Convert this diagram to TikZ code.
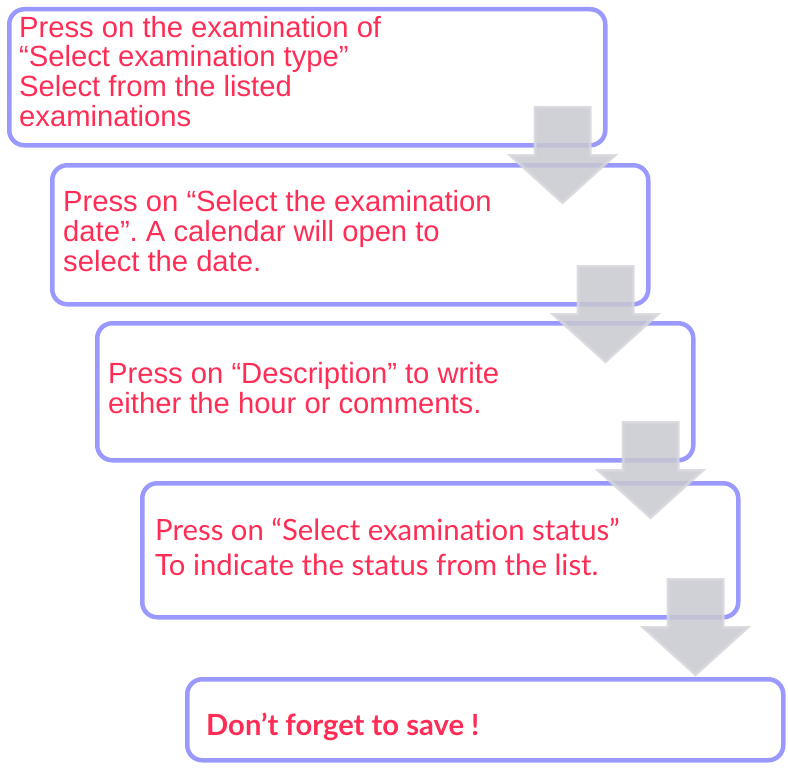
\documentclass[tikz,border=0pt]{standalone}
\usepackage{fontspec}
\setmainfont{Liberation Sans}
\newfontfamily\latofont[Ligatures=NoCommon]{Lato}
\frenchspacing
\definecolor{boxviolet}{RGB}{153,153,255}
\definecolor{notered}{RGB}{255,45,85}
\definecolor{arrowgray}{RGB}{200,200,208}
\definecolor{arrowedge}{RGB}{214,214,220}
\tikzset{
  stepbox/.style={
    draw=boxviolet,
    line width=4.5pt,
    rounded corners=15pt,
    minimum width=596pt,
    inner sep=0pt,
    anchor=north west
  },
  steptext/.style={
    anchor=base west,
    inner sep=0pt,
    align=left,
    text=notered,
    font=\fontsize{29.2}{30}\selectfont
  },
  latotext/.style={
    steptext,
    font=\latofont\fontsize{29.3}{35}\selectfont
  },
  flowarrow/.style={
    fill=arrowgray,
    draw=arrowedge,
    line width=3pt,
    fill opacity=0.85,
    draw opacity=0.85
  }
}

\begin{document}
\begin{tikzpicture}[x=1pt, y=-1pt]
  \useasboundingbox (0,0) rectangle (788,768);

  % boxes
  \node[stepbox, minimum height=136pt] (exam)   at (7,7)     {};
  \node[stepbox, minimum height=139pt] (date)   at (50,163)  {};
  \node[stepbox, minimum height=137pt] (descr)  at (95,321)  {};
  \node[stepbox, minimum height=134pt] (status) at (140,481) {};
  \node[stepbox, minimum height=81pt]  (save)   at (185,677) {};

  % texts (base = last line)
  \node[steptext] (examtext) at ([shift={(12,120)}]exam.north west)
    {Press on the examination of\\“Select examination type”\\Select from the listed\\examinations};
  \node[steptext] (datetext) at ([shift={(13,108)}]date.north west)
    {Press on “Select the examination\\date”. A calendar will open to\\select the date.};
  \node[steptext] (descrtext) at ([shift={(13,92)}]descr.north west)
    {Press on “Description” to write\\either the hour or comments.};
  \node[latotext] (statustext) at ([shift={(15,94)}]status.north west)
    {Press on “Select examination status”\\To indicate the status from the list.};
  \node[latotext, font=\latofont\bfseries\fontsize{29.2}{35}\selectfont] (savetext) at ([shift={(21,58)}]save.north west)
    {Don’t forget to save !};

  % arrows between the boxes
  \foreach \from in {exam, date, descr, status}
    \draw[flowarrow] ([shift={(-72.5,-40)}]\from.south east) -- ++(55,0) -- ++(0,48)
      -- ++(24.5,0) -- ++(-52,47) -- ++(-52,-47) -- ++(24.5,0) -- cycle;
\end{tikzpicture}
\end{document}
